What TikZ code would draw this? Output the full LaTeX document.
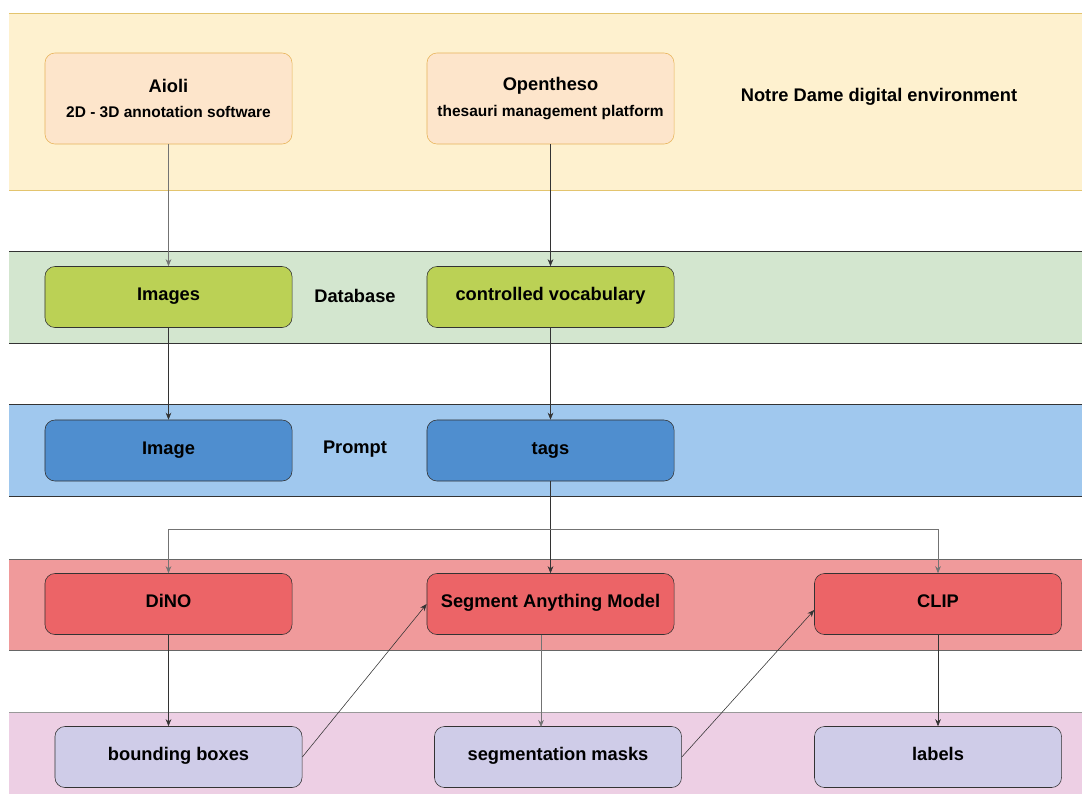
\documentclass[tikz,border=0pt]{standalone}
\usepackage{fontspec}
\setmainfont{Liberation Sans}
\usetikzlibrary{arrows.meta}

\definecolor{envband}{HTML}{FEF1CF}
\definecolor{envline}{HTML}{E3C46E}
\definecolor{envbox}{HTML}{FDE5CB}
\definecolor{envboxline}{HTML}{E8B45A}
\definecolor{dbband}{HTML}{D3E6CF}
\definecolor{dbbox}{HTML}{BBD155}
\definecolor{prband}{HTML}{A0C8EE}
\definecolor{prbox}{HTML}{4F8ECF}
\definecolor{mdband}{HTML}{F09A9B}
\definecolor{mdbox}{HTML}{EC6467}
\definecolor{outband}{HTML}{EDCFE4}
\definecolor{outbox}{HTML}{CFCCE8}

\tikzset{
  block/.style={draw=black!80, rounded corners=0.25cm, minimum width=6.175cm,
    minimum height=1.525cm, align=center, font=\fontsize{13}{15}\selectfont\bfseries},
  oneline/.style={block, text height=0.72em, text depth=0.22em},
  link/.style={-{Stealth[length=5pt,width=4pt]}, draw=black!80, thin},
  greylink/.style={link, draw=black!55}
}

\begin{document}
\begin{tikzpicture}[x=0.025cm, y=-0.025cm, every node/.style={font=\fontsize{13}{15}\selectfont\bfseries}]
\useasboundingbox (0,0) rectangle (1082,794);

% Bands
\fill[envband] (9,13) rectangle (1082,190);
\draw[envline] (9,13) -- (1082,13) (9,190) -- (1082,190);
\fill[dbband] (9,251) rectangle (1082,343);
\draw[black!80] (9,251) -- (1082,251) (9,343) -- (1082,343);
\fill[prband] (9,404) rectangle (1082,496);
\draw[black!80] (9,404) -- (1082,404) (9,496) -- (1082,496);
\fill[mdband] (9,559) rectangle (1082,650);
\draw[black!60] (9,559) -- (1082,559) (9,650) -- (1082,650);
\fill[outband] (9,712) rectangle (1082,794);
\draw[black!40] (9,712) -- (1082,712);

% Notre Dame digital environment
\node[block, fill=envbox, draw=envboxline, minimum height=2.275cm] (aioli) at (168.5,98.5)
  {Aioli\\[3pt]{\fontsize{11}{13}\selectfont 2D - 3D annotation software}};
\node[block, fill=envbox, draw=envboxline, minimum height=2.275cm] (opentheso) at (550.5,98.5)
  {Opentheso\\[3pt]{\fontsize{11}{13}\selectfont thesauri management platform}};
\node (envlabel) at (879,97) {Notre Dame digital environment};

% Database
\node[oneline, fill=dbbox] (images) at (168.5,297) {Images};
\node (dblabel) at (355,296) {Database};
\node[oneline, fill=dbbox] (vocab) at (550.5,297) {controlled vocabulary};

% Prompt
\node[oneline, fill=prbox] (image) at (168.5,450.5) {Image};
\node (prlabel) at (355,449) {Prompt};
\node[oneline, fill=prbox] (tags) at (550.5,450.5) {tags};

% Models
\node[oneline, fill=mdbox] (dino) at (168.5,604) {DiNO};
\node[oneline, fill=mdbox] (sam) at (550.5,604) {Segment Anything Model};
\node[oneline, fill=mdbox] (clip) at (938,604) {CLIP};

% Outputs
\node[oneline, fill=outbox] (bbox) at (178.5,757) {bounding boxes};
\node[oneline, fill=outbox] (masks) at (558,757) {segmentation masks};
\node[oneline, fill=outbox] (labels) at (938,757) {labels};

% Vertical arrows
\draw[greylink] (aioli) -- (aioli |- images.north);
\draw[link] (opentheso) -- (opentheso |- vocab.north);
\draw[link] (images) -- (image);
\draw[link] (vocab) -- (tags);
\draw[link] (tags) -- (sam);
\coordinate (split) at (550.5,529);
\draw[greylink] (split) -| (dino.north);
\draw[greylink] (split) -| (clip.north);
\draw[link] (dino) -- (dino |- bbox.north);
\draw[greylink] (sam.south -| 541,0) -- (541,727);
\draw[link] (clip) -- (labels);

% Diagonal arrows
\draw[link] (bbox.east) -- (sam.west);
\draw[link] (masks.east) -- ([yshift=-0.15cm]clip.west);

\end{tikzpicture}
\end{document}
